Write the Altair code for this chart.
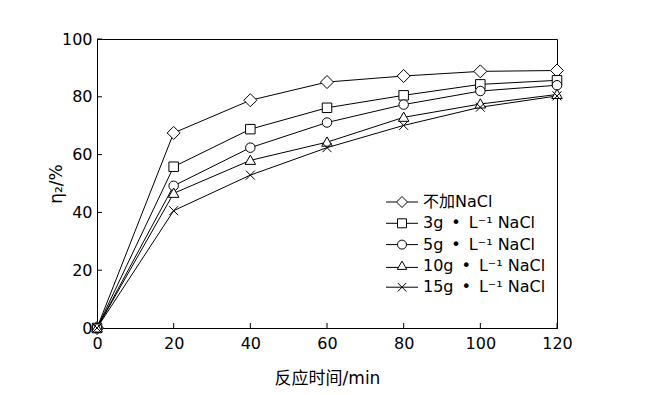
import altair as alt
import pandas as pd

# ---- data ----
time_min = [0, 20, 40, 60, 80, 100, 120]
series_names = ["不加NaCl", "3g\u2002•\u2002L⁻¹ NaCl", "5g\u2002•\u2002L⁻¹ NaCl",
                "10g\u2002•\u2002L⁻¹ NaCl", "15g\u2002•\u2002L⁻¹ NaCl"]
eta_no_nacl = [0, 67.5, 78.8, 85.1, 87.2, 88.8, 89.1]
eta_3g = [0, 55.8, 68.8, 76.2, 80.5, 84.3, 85.7]
eta_5g = [0, 49.2, 62.4, 71.1, 77.3, 82.0, 84.0]
eta_10g = [0, 46.6, 58.0, 64.3, 72.9, 77.5, 80.8]
eta_15g = [0, 40.6, 52.9, 62.4, 70.1, 76.4, 80.3]
x_ticks = [0, 20, 40, 60, 80, 100, 120]
y_ticks = [0, 20, 40, 60, 80, 100]

series_values = [eta_no_nacl, eta_3g, eta_5g, eta_10g, eta_15g]
rows = []
for name, vals in zip(series_names, series_values):
    for t, v in zip(time_min, vals):
        rows.append({"time": t, "eta": v, "series": name})
df = pd.DataFrame(rows)
xtick_df = pd.DataFrame({"time": x_ticks})
ytick_df = pd.DataFrame({"eta": y_ticks})

# ---- marker shapes (unit = sqrt(size)/2 px) ----
marker_paths = [
    "M0,-1.3L1.3,0L0,1.3L-1.3,0Z",
    "M-0.95,-0.95H0.95V0.95H-0.95Z",
    "M0.95,0A0.95,0.95 0 1,1 -0.95,0A0.95,0.95 0 1,1 0.95,0Z",
    "M0,-1.05L1.05,0.8L-1.05,0.8Z",
    "M-0.9,-0.9L0.9,0.9M-0.9,0.9L0.9,-0.9",
]
legend_paths = [
    "M-3.2,0H-1.1M1.1,0H3.2M0,-1.1L1.1,0L0,1.1L-1.1,0Z",
    "M-3.2,0H-0.9M0.9,0H3.2M-0.9,-0.9H0.9V0.9H-0.9Z",
    "M-3.2,0H-0.9M0.9,0H3.2M0.9,0A0.9,0.9 0 1,1 -0.9,0A0.9,0.9 0 1,1 0.9,0Z",
    "M-3.2,0.3H-0.8M0.8,0.3H3.2M0,-0.95L0.95,0.7L-0.95,0.7Z",
    "M-3.2,0H3.2M-0.85,-0.85L0.85,0.85M-0.85,0.85L0.85,-0.85",
]

FONT = "DejaVu Sans, Noto Sans CJK SC"
xs = alt.Scale(domain=[0, 120], nice=False, zero=False)
ys = alt.Scale(domain=[0, 100], nice=False)

x_axis = alt.Axis(orient="bottom", values=x_ticks, ticks=False, grid=False, domain=True,
                  title="反应时间/min", labelPadding=7, titlePadding=19, format="d",
                  labelFlush=False)
y_axis = alt.Axis(orient="left", values=y_ticks, ticks=False, grid=False, domain=True,
                  title="η₂/%", labelPadding=5, format="d", labelFlush=False,
                  titleX=-41, titleY=144.5, titleBaseline="middle", titleAngle=270)

x_enc = alt.X("time:Q", scale=xs, axis=x_axis)
y_enc = alt.Y("eta:Q", scale=ys, axis=y_axis)

lines = alt.Chart(df).mark_line(color="black", strokeWidth=1).encode(
    x=x_enc, y=y_enc, detail="series:N")

points = alt.Chart(df).mark_point(
    filled=True, fill="white", stroke="black", strokeWidth=1, opacity=1, size=100
).encode(
    x=x_enc, y=y_enc,
    shape=alt.Shape("series:N", scale=alt.Scale(domain=series_names, range=marker_paths), legend=None),
)

legend_layer = alt.Chart(df).transform_filter("false").mark_point(
    filled=False, color="black", strokeWidth=1, opacity=1, size=100
).encode(
    x=x_enc, y=y_enc,
    shape=alt.Shape("series:N", scale=alt.Scale(domain=series_names, range=legend_paths),
                    legend=alt.Legend(orient="none", legendX=297, legendY=155, title=None,
                                      symbolSize=100,
                                      symbolStrokeColor="black", symbolStrokeWidth=1,
                                      symbolOpacity=1, labelFont=FONT, labelFontSize=16,
                                      labelColor="black", labelOffset=13, rowPadding=5.3,
                                      padding=0)),
)

x_tick_marks = alt.Chart(xtick_df).mark_tick(
    orient="vertical", size=5, thickness=1, color="black", yOffset=-2.5, opacity=1
).encode(x=x_enc, y=alt.YDatum(0, scale=ys, axis=y_axis, type="quantitative"))

y_tick_marks = alt.Chart(ytick_df).mark_tick(
    orient="horizontal", size=5, thickness=1, color="black", xOffset=2.5, opacity=1
).encode(y=y_enc, x=alt.XDatum(0, scale=xs, axis=x_axis, type="quantitative"))

chart = alt.layer(lines, x_tick_marks, y_tick_marks, points, legend_layer).resolve_scale(
    shape="independent"
).properties(
    width=460, height=289,
    autosize=alt.AutoSizeParams(type="none"),
    padding={"left": 89, "top": 31, "right": 80, "bottom": 66},
).configure_view(
    stroke="black", strokeWidth=1
).configure_axis(
    domainColor="black", tickColor="black", labelColor="black", titleColor="black",
    labelFont=FONT, titleFont=FONT, labelFontSize=16, titleFontSize=17,
    titleFontWeight="normal", domainWidth=1, tickWidth=1,
)

chart.save("out.html", embed_options={"renderer": "svg", "actions": False})
